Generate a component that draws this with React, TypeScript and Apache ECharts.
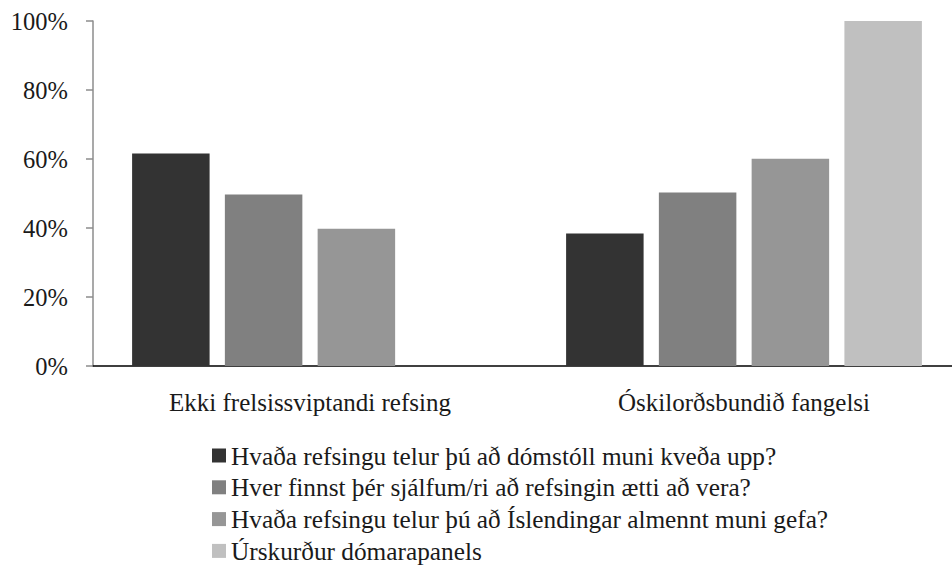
import React, { useEffect, useRef } from "react";
import * as echarts from "echarts";

const categories = ["Ekki frelsissviptandi refsing", "Óskilorðsbundið fangelsi"];
const seriesNames = [
  "Hvaða refsingu telur þú að dómstóll muni kveða upp?",
  "Hver finnst þér sjálfum/ri að refsingin ætti að vera?",
  "Hvaða refsingu telur þú að Íslendingar almennt muni gefa?",
  "Úrskurður dómarapanels",
];
const seriesColors = ["#333333", "#808080", "#969696", "#C0C0C0"];
const s1 = [61.6, 38.4];
const s2 = [49.7, 50.3];
const s3 = [39.8, 60.1];
const s4: (number | string)[] = ["-", 100];
const seriesValues = [s1, s2, s3, s4];
const yTicks = [0, 20, 40, 60, 80, 100];

const FONT = "Liberation Serif";

export default function App() {
  const ref = useRef<HTMLDivElement>(null);
  useEffect(() => {
    if (!ref.current) return;
    const chart = echarts.init(ref.current, null, { renderer: "svg" });
    chart.setOption({
      animation: false,
      backgroundColor: "#ffffff",
      textStyle: { fontFamily: FONT, color: "#1a1a1a" },
      grid: { left: 93, top: 21, width: 868, height: 345, containLabel: false },
      legend: {
        orient: "vertical",
        left: 212,
        top: 443,
        padding: 0,
        itemWidth: 14,
        itemHeight: 14,
        itemGap: 6.8,
        icon: "rect",
        data: seriesNames,
        textStyle: { fontFamily: FONT, fontSize: 25.3, color: "#1a1a1a", lineHeight: 24.7 },
      },
      xAxis: {
        type: "category",
        data: categories,
        axisLine: { show: true, lineStyle: { color: "#000000", width: 1.5 } },
        axisTick: { show: false },
        axisLabel: { fontFamily: FONT, fontSize: 25, color: "#1a1a1a", margin: 24 },
      },
      yAxis: {
        type: "value",
        min: yTicks[0],
        max: yTicks[yTicks.length - 1],
        interval: 20,
        axisLine: { show: true, lineStyle: { color: "#8c8c8c", width: 1.5 } },
        axisTick: { show: true, length: 7, lineStyle: { color: "#8c8c8c", width: 1.5 } },
        splitLine: { show: false },
        axisLabel: {
          fontFamily: FONT,
          fontSize: 24.5,
          color: "#1a1a1a",
          margin: 25,
          formatter: (v: number) => v + "%",
        },
      },
      series: seriesNames.map((name, i) => ({
        name,
        type: "bar",
        data: seriesValues[i],
        barWidth: 77.5,
        barGap: "19.7%",
        itemStyle: { color: seriesColors[i] },
      })),
    });
    return () => chart.dispose();
  }, []);
  return (
    <div style={{ position: "fixed", left: 0, top: 0, width: 952, height: 572, overflow: "hidden", background: "#fff" }}>
      <div ref={ref} style={{ width: 975, height: 572 }} />
    </div>
  );
}
